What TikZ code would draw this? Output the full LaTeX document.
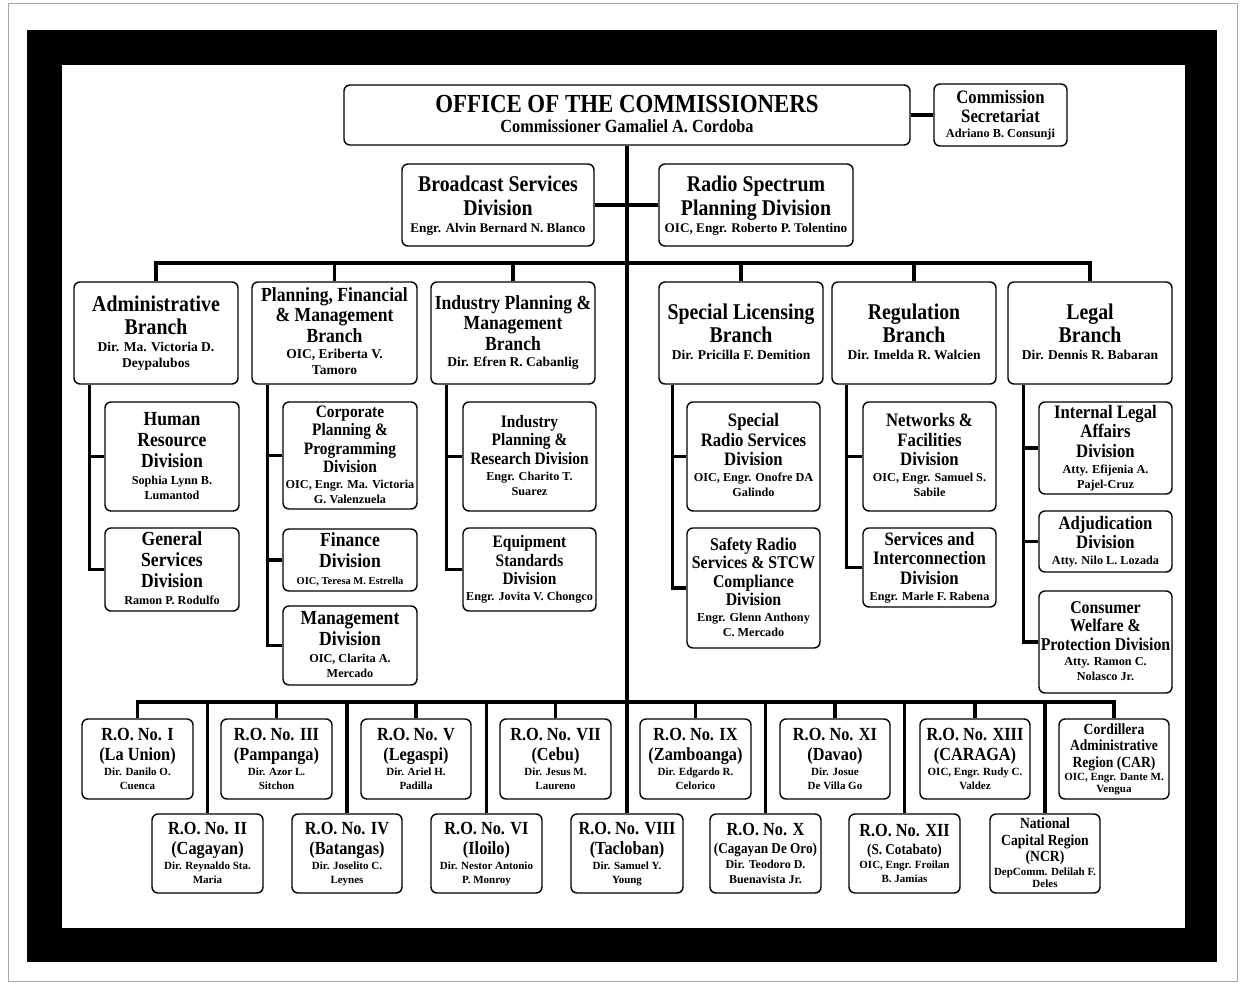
\documentclass[tikz,border=0pt]{standalone}
\usepackage{fontspec}
\newfontfamily\condfam{Liberation Serif}[FakeStretch=0.88]
\newfontfamily\normfam{Liberation Serif}
\newcommand\zcf{\condfam\bfseries}
\newcommand\znf{\normfam\bfseries}
\newcommand\zsetup{\fontsize{10}{0}\selectfont\lineskip 0pt\lineskiplimit 0pt\relax}
\newcommand\zLx[5]{{#1\fontsize{#2}{#2}\selectfont\vrule width 0pt height #3pt depth #4pt\relax #5}}
\newcommand\zTx[4]{\zLx{\zcf}{#1}{#2}{#3}{#4}}
\newcommand\zNx[4]{\zLx{\znf}{#1}{#2}{#3}{#4}}
\newcommand\zOT[1]{\zTx{26}{19}{4}{#1}}
\newcommand\zON[1]{\zTx{18.5}{16}{4}{#1}}
\newcommand\zST[1]{\zTx{19}{14.5}{4.5}{#1}}
\newcommand\zSN[1]{\zNx{12.3}{10.5}{3}{#1}}
\newcommand\zBST[1]{\zTx{22.5}{18}{6}{#1}}
\newcommand\zBSN[1]{\zNx{13.2}{11}{4}{#1}}
\newcommand\zBT[1]{\zTx{22.5}{17}{6}{#1}}
\newcommand\zBTs[1]{\zTx{20}{15}{5.5}{#1}}
\newcommand\zBN[1]{\zNx{13.5}{11}{5}{#1}}
\newcommand\zDT[1]{\zTx{20}{15}{6}{#1}}
\newcommand\zDTm[1]{\zTx{19}{14.5}{5}{#1}}
\newcommand\zDTc[1]{\zTx{18}{14}{4.5}{#1}}
\newcommand\zDTs[1]{\zTx{17.5}{13.5}{5}{#1}}
\newcommand\zDN[1]{\zNx{12.2}{11}{4}{#1}}
\newcommand\zDNs[1]{\zNx{10.5}{11}{4}{#1}}
\newcommand\zRT[1]{\zTx{18.5}{15}{5}{#1}}
\newcommand\zRTs[1]{\zTx{15.5}{12}{4.5}{#1}}
\newcommand\zRTx[1]{\zTx{15}{13}{4}{#1}}
\newcommand\zRN[1]{\zNx{11}{10}{4}{#1}}
\newcommand\zRNt[1]{\zNx{11}{9}{3}{#1}}
\newcommand\zRNb[1]{\zNx{12}{11}{4}{#1}}
\pgfdeclarelayer{back}
\pgfdeclarelayer{mid}
\pgfsetlayers{back,mid,main}
\tikzset{
  box/.style={draw, line width=1.4pt, rounded corners=6pt, fill=white, inner sep=0pt,
    align=center, font={\zsetup}},
  conn/.style={line width=3.6pt, line join=miter}
}
\newcommand\bx[6]{\node[box,minimum width={(#3-#2)*1pt},minimum height={(#5-#4)*1pt}] (#1) at ({(#2+#3)/2},{(#4+#5)/2}) {#6};}
\begin{document}
\begin{tikzpicture}[x=1pt,y=-1pt]
\useasboundingbox (0,0) rectangle (1243,983);
\begin{pgfonlayer}{back}
\fill[white] (0,0) rectangle (1243,983);
\draw[gray!70, line width=0.8pt] (8,3) rectangle (1237,981);
\fill[black] (27,30) rectangle (1217,962);
\fill[white] (62,65) rectangle (1185,928);
\end{pgfonlayer}

% top
\bx{office}{344}{910}{85}{145}{\zOT{OFFICE OF THE COMMISSIONERS}\\\zON{Commissioner Gamaliel A. Cordoba}}
\bx{sec}{934}{1067}{84}{146}{\zST{Commission}\\\zST{Secretariat}\\\zSN{Adriano B. Consunji}}
\bx{bsd}{402}{594}{164}{246}{\zBST{Broadcast Services}\\\zBST{Division}\\\zBSN{Engr. Alvin Bernard N. Blanco}}
\bx{rsp}{659}{853}{164}{246}{\zBST{Radio Spectrum}\\\zBST{Planning Division}\\\zBSN{OIC, Engr. Roberto P. Tolentino}}

% branches
\bx{admin}{74}{238}{282}{384}{\zBT{Administrative}\\\zBT{Branch}\\\zBN{Dir. Ma. Victoria D.}\\\zBN{Deypalubos}}
\bx{pfm}{252}{417}{282}{384}{\zBTs{Planning, Financial}\\\zBTs{\& Management}\\\zBTs{Branch}\\\zBN{OIC, Eriberta V.}\\\zBN{Tamoro}}
\bx{ipm}{431}{595}{282}{384}{\zBTs{Industry Planning \&}\\\zBTs{Management}\\\zBTs{Branch}\\\zBN{Dir. Efren R. Cabanlig}}
\bx{sl}{659}{823}{282}{384}{\zBT{Special Licensing}\\\zBT{Branch}\\\zBN{Dir. Pricilla F. Demition}}
\bx{reg}{832}{996}{282}{384}{\zBT{Regulation}\\\zBT{Branch}\\\zBN{Dir. Imelda R. Walcien}}
\bx{legal}{1008}{1172}{282}{384}{\zBT{Legal}\\\zBT{Branch}\\\zBN{Dir. Dennis R. Babaran}}

% divisions
\bx{hr}{105}{239}{402}{511}{\zDT{Human}\\\zDT{Resource}\\\zDT{Division}\\\zDN{Sophia Lynn B.}\\\zDN{Lumantod}}
\bx{gs}{105}{239}{528}{611}{\zDT{General}\\\zDT{Services}\\\zDT{Division}\\\zDN{Ramon P. Rodulfo}}
\bx{cpp}{283}{417}{402}{509}{\zDTs{Corporate}\\\zDTs{Planning \&}\\\zDTs{Programming}\\\zDTs{Division}\\\zDN{OIC, Engr. Ma. Victoria}\\\zDN{G. Valenzuela}}
\bx{fin}{283}{417}{529}{591}{\zDT{Finance}\\\zDT{Division}\\\zDNs{OIC, Teresa M. Estrella}}
\bx{mgt}{283}{417}{606}{685}{\zDT{Management}\\\zDT{Division}\\\zDN{OIC, Clarita A.}\\\zDN{Mercado}}
\bx{ipr}{463}{596}{402}{511}{\zDTs{Industry}\\\zDTs{Planning \&}\\\zDTs{Research Division}\\\zDN{Engr. Charito T.}\\\zDN{Suarez}}
\bx{es}{463}{596}{528}{611}{\zDTs{Equipment}\\\zDTs{Standards}\\\zDTs{Division}\\\zDN{Engr. Jovita V. Chongco}}
\bx{srs}{687}{820}{402}{511}{\zDTm{Special}\\\zDTm{Radio Services}\\\zDTm{Division}\\\zDN{OIC, Engr. Onofre DA}\\\zDN{Galindo}}
\bx{srv}{687}{820}{528}{648}{\zDTc{Safety Radio}\\\zDTc{Services \& STCW}\\\zDTc{Compliance}\\\zDTc{Division}\\\zDN{Engr. Glenn Anthony}\\\zDN{C. Mercado}}
\bx{nf}{863}{996}{402}{511}{\zDTm{Networks \&}\\\zDTm{Facilities}\\\zDTm{Division}\\\zDN{OIC, Engr. Samuel S.}\\\zDN{Sabile}}
\bx{si}{863}{996}{528}{607}{\zDTm{Services and}\\\zDTm{Interconnection}\\\zDTm{Division}\\\zDN{Engr. Marle F. Rabena}}
\bx{ila}{1039}{1172}{402}{494}{\zDTm{Internal Legal}\\\zDTm{Affairs}\\\zDTm{Division}\\\zDN{Atty. Efijenia A.}\\\zDN{Pajel-Cruz}}
\bx{adj}{1039}{1172}{511}{572}{\zDTm{Adjudication}\\\zDTm{Division}\\\zDN{Atty. Nilo L. Lozada}}
\bx{cw}{1039}{1172}{591}{693}{\zDTc{Consumer}\\\zDTc{Welfare \&}\\\zDTc{Protection Division}\\\zDN{Atty. Ramon C.}\\\zDN{Nolasco Jr.}}

% regional offices row 1
\bx{ro1}{82}{193}{719}{799}{\zRT{R.O. No. I}\\\zRT{(La Union)}\\\zRN{Dir. Danilo O.}\\\zRN{Cuenca}}
\bx{ro3}{221}{332}{719}{799}{\zRT{R.O. No. III}\\\zRT{(Pampanga)}\\\zRN{Dir. Azor L.}\\\zRN{Sitchon}}
\bx{ro5}{361}{471}{719}{799}{\zRT{R.O. No. V}\\\zRT{(Legaspi)}\\\zRN{Dir. Ariel H.}\\\zRN{Padilla}}
\bx{ro7}{500}{611}{719}{799}{\zRT{R.O. No. VII}\\\zRT{(Cebu)}\\\zRN{Dir. Jesus M.}\\\zRN{Laureno}}
\bx{ro9}{640}{751}{719}{799}{\zRT{R.O. No. IX}\\\zRT{(Zamboanga)}\\\zRN{Dir. Edgardo R.}\\\zRN{Celorico}}
\bx{ro11}{780}{890}{719}{799}{\zRT{R.O. No. XI}\\\zRT{(Davao)}\\\zRN{Dir. Josue}\\\zRN{De Villa Go}}
\bx{ro13}{920}{1030}{719}{799}{\zRT{R.O. No. XIII}\\\zRT{(CARAGA)}\\\zRN{OIC, Engr. Rudy C.}\\\zRN{Valdez}}
\bx{car}{1059}{1169}{719}{799}{\zRTs{Cordillera}\\\zRTs{Administrative}\\\zRTs{Region (CAR)}\\\zRNt{OIC, Engr. Dante M.}\\\zRNt{Vengua}}

% regional offices row 2
\bx{ro2}{152}{263}{814}{893}{\zRT{R.O. No. II}\\\zRT{(Cagayan)}\\\zRN{Dir. Reynaldo Sta.}\\\zRN{Maria}}
\bx{ro4}{292}{402}{814}{893}{\zRT{R.O. No. IV}\\\zRT{(Batangas)}\\\zRN{Dir. Joselito C.}\\\zRN{Leynes}}
\bx{ro6}{431}{542}{814}{893}{\zRT{R.O. No. VI}\\\zRT{(Iloilo)}\\\zRN{Dir. Nestor Antonio}\\\zRN{P. Monroy}}
\bx{ro8}{571}{683}{814}{893}{\zRT{R.O. No. VIII}\\\zRT{(Tacloban)}\\\zRN{Dir. Samuel Y.}\\\zRN{Young}}
\bx{ro10}{710}{821}{814}{893}{\zRT{R.O. No. X}\\\zRTx{(Cagayan De Oro)}\\\zRNb{Dir. Teodoro D.}\\\zRNb{Buenavista Jr.}}
\bx{ro12}{849}{960}{814}{893}{\zRT{R.O. No. XII}\\\zRTx{(S. Cotabato)}\\\zRN{OIC, Engr. Froilan}\\\zRN{B. Jamias}}
\bx{ncr}{990}{1100}{814}{893}{\zRTs{National}\\\zRTs{Capital Region}\\\zRTs{(NCR)}\\\zRNt{DepComm. Delilah F.}\\\zRNt{Deles}}

\begin{pgfonlayer}{mid}
\draw[conn] (office.east) -- (sec.west);
\draw[conn] (office.south) -- (ro8.north);
\draw[conn] (bsd.east) -- (rsp.west);
\coordinate (bb) at (627,263);
\draw[conn] (admin.north) |- (bb) -| (legal.north);
\foreach \n in {pfm,ipm,sl,reg} \draw[conn] (\n.north) -- (\n.north |- bb);
% spines
\coordinate (a0) at ([xshift=16pt]admin.south west);
\draw[conn] (a0) |- (gs.west); \draw[conn] (hr.west) -- (hr.west -| a0);
\coordinate (p0) at ([xshift=16pt]pfm.south west);
\draw[conn] (p0) |- (mgt.west); \draw[conn] (cpp.west) -- (cpp.west -| p0); \draw[conn] (fin.west) -- (fin.west -| p0);
\coordinate (i0) at ([xshift=16pt]ipm.south west);
\draw[conn] (i0) |- (es.west); \draw[conn] (ipr.west) -- (ipr.west -| i0);
\coordinate (s0) at ([xshift=14pt]sl.south west);
\draw[conn] (s0) |- (srv.west); \draw[conn] (srs.west) -- (srs.west -| s0);
\coordinate (r0) at ([xshift=15pt]reg.south west);
\draw[conn] (r0) |- (si.west); \draw[conn] (nf.west) -- (nf.west -| r0);
\coordinate (l0) at ([xshift=16pt]legal.south west);
\draw[conn] (l0) |- (cw.west); \draw[conn] (ila.west) -- (ila.west -| l0); \draw[conn] (adj.west) -- (adj.west -| l0);
% regional bus
\coordinate (rb) at (627,702);
\draw[conn] (ro1.north) |- (rb) -| (car.north);
\foreach \n in {ro3,ro5,ro7,ro9,ro11,ro13,ro2,ro4,ro6,ro10,ro12,ncr} \draw[conn] (\n.north) -- (\n.north |- rb);
\end{pgfonlayer}
\end{tikzpicture}
\end{document}
